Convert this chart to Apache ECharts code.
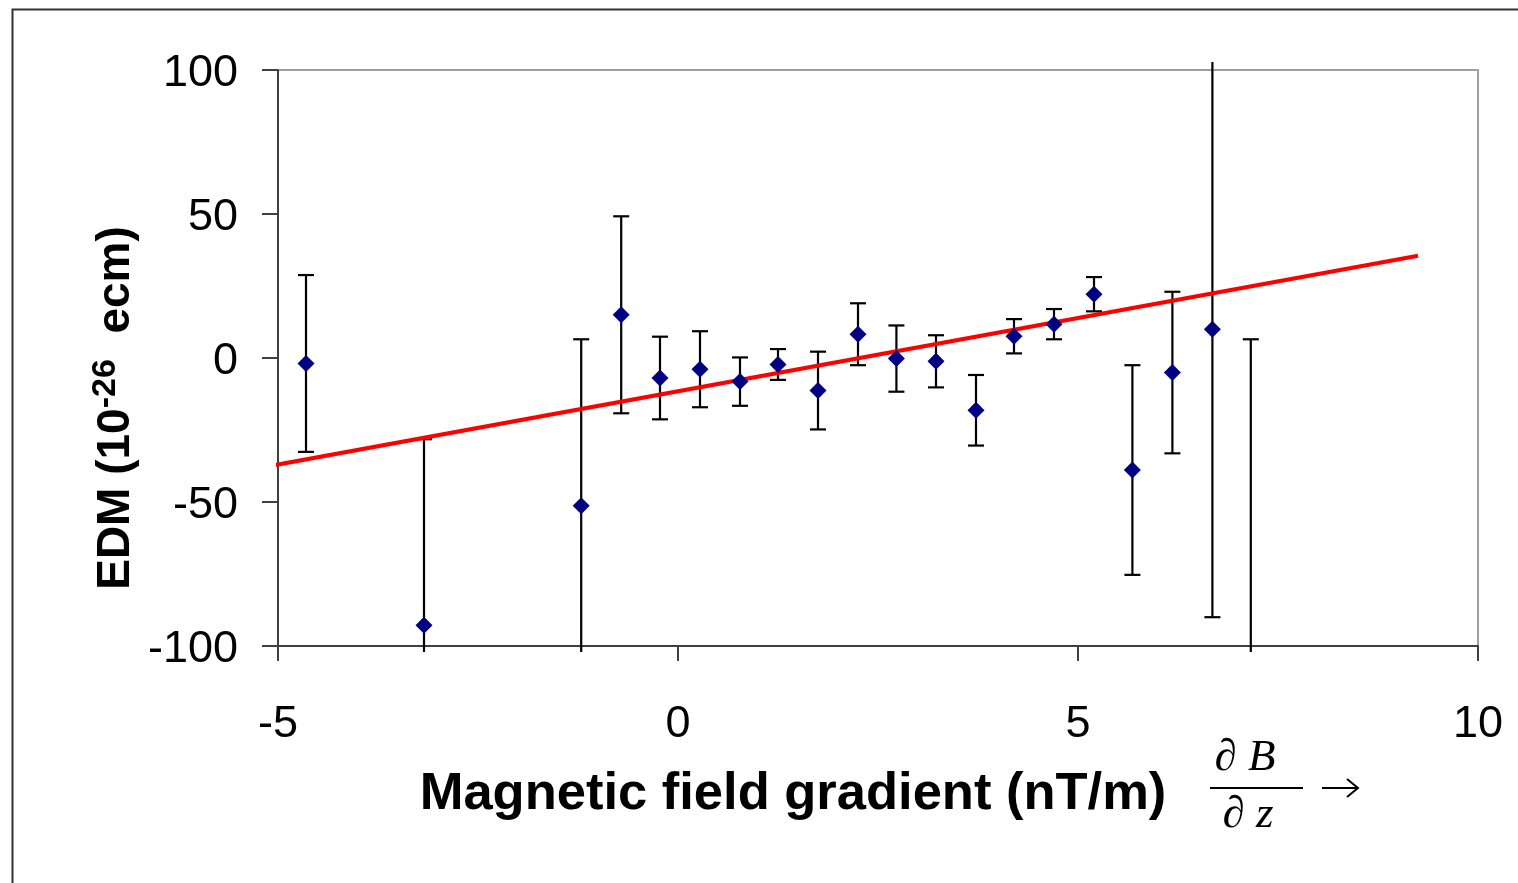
<!DOCTYPE html>
<html>
<head>
<meta charset="utf-8">
<script src="https://cdn.jsdelivr.net/npm/echarts@6/dist/echarts.min.js"></script>
<style>html,body{margin:0;padding:0;background:#fff;}#c{width:1518px;height:883px;}</style>
</head>
<body>
<div id="c"></div>
<script>
const gradient = [-4.65,-3.175,-1.21,-0.71,-0.225,0.275,0.775,1.25,1.75,2.25,2.73,3.225,3.725,4.2,4.7,5.2,5.68,6.18,6.68,7.16];
const edm      = [-1.9,-92.8,-51.3,15.0,-6.95,-3.9,-8.2,-2.25,-11.3,8.25,-0.2,-1.15,-18.15,7.55,11.75,22.15,-38.9,-5.05,10.0,-110];
const edmErr   = [30.7,64.6,57.8,34.2,14.35,13.2,8.4,5.35,13.5,10.75,11.5,9.05,12.25,5.95,5.25,5.95,36.4,28.05,100,116.5];
const fitX = [-5.08, 9.25];
const fitY = [-37.4, 35.5];
const xTicks = [-5, 0, 5, 10];
const yTicks = [-100, -50, 0, 50, 100];

const pts = gradient.map((x, i) => [x, edm[i]]);
const bars = gradient.map((x, i) => [x, edm[i], edmErr[i]]);
const fit = fitX.map((x, i) => [x, fitY[i]]);

const chart = echarts.init(document.getElementById('c'), null, {renderer: 'canvas'});
const FONT = 'Arial, "Liberation Sans", sans-serif';
const SERIF = '"Liberation Serif", "Times New Roman", serif';

chart.setOption({
  animation: false,
  backgroundColor: '#fff',
  grid: {left: 278, right: 40, top: 70, bottom: 237, show: true, borderColor: '#a0a0a0', borderWidth: 2, backgroundColor: 'transparent'},
  xAxis: {
    type: 'value', min: xTicks[0], max: xTicks[xTicks.length - 1], interval: 5,
    axisLine: {show: true, onZero: false, lineStyle: {color: '#404040', width: 2}},
    axisTick: {show: true, inside: false, length: 15, lineStyle: {color: '#404040', width: 2}},
    axisLabel: {color: '#000', fontFamily: FONT, fontSize: 45, margin: 56},
    splitLine: {show: false}
  },
  yAxis: {
    type: 'value', min: yTicks[0], max: yTicks[yTicks.length - 1], interval: 50,
    axisLine: {show: true, onZero: false, lineStyle: {color: '#404040', width: 2}},
    axisTick: {show: true, inside: false, length: 16, lineStyle: {color: '#404040', width: 2}},
    axisLabel: {color: '#000', margin: 40, formatter: '{a|{value}}',
      rich: {a: {fontFamily: FONT, fontSize: 45, color: '#000', padding: [8, 0, 0, 0]}}},
    splitLine: {show: false}
  },
  graphic: [
    {type: 'rect', left: 10, top: 7, shape: {x: 0, y: 0, width: 1530, height: 900}, style: {fill: 'none', stroke: '#333', lineWidth: 2}, z: -10, silent: true},
    {type: 'text', x: 793, y: 795, style: {text: 'Magnetic field gradient (nT/m)', fontFamily: FONT, fontWeight: 'bold', fontSize: 52.5, fill: '#000', textAlign: 'center', textVerticalAlign: 'middle'}},
    {type: 'text', x: 114, y: 408, rotation: Math.PI / 2,
      style: {text: '{m|EDM (10}{s|-26}{m|  ecm)}', fill: '#000', textAlign: 'center', textVerticalAlign: 'middle',
        rich: {m: {fontFamily: FONT, fontWeight: 'bold', fontSize: 46, lineHeight: 50, verticalAlign: 'bottom'},
               s: {fontFamily: FONT, fontWeight: 'bold', fontSize: 34, lineHeight: 30, verticalAlign: 'top'}}}},
    {type: 'text', x: 1245, y: 758, style: {text: '∂ {i|B}', fontFamily: SERIF, fontSize: 45, textAlign: 'center', textVerticalAlign: 'middle', fill: '#000',
      rich: {i: {fontFamily: SERIF, fontStyle: 'italic', fontSize: 45}}}},
    {type: 'text', x: 1248, y: 815, style: {text: '∂ {i|z}', fontFamily: SERIF, fontSize: 45, textAlign: 'center', textVerticalAlign: 'middle', fill: '#000',
      rich: {i: {fontFamily: SERIF, fontStyle: 'italic', fontSize: 45}}}},
    {type: 'line', shape: {x1: 1210, y1: 788, x2: 1303, y2: 788}, style: {stroke: '#000', lineWidth: 2}},
    {type: 'line', shape: {x1: 1322, y1: 788, x2: 1358, y2: 788}, style: {stroke: '#000', lineWidth: 2}},
    {type: 'polyline', shape: {points: [[1347, 779], [1358, 788], [1347, 797]]}, style: {stroke: '#000', lineWidth: 2, fill: 'none'}}
  ],
  series: [
    {
      type: 'custom', name: 'err', data: bars, clip: false, z: 1,
      renderItem: function (params, api) {
        const x = api.value(0), y = api.value(1), e = api.value(2);
        const top = api.coord([x, y + e]);
        const bot = api.coord([x, y - e]);
        const cs = params.coordSys;
        const lo = cs.y - 8, hi = cs.y + cs.height + 6;
        const capTop = top[1] >= cs.y - 0.5;
        const capBot = bot[1] <= cs.y + cs.height + 0.5;
        const t = Math.max(top[1], lo), b = Math.min(bot[1], hi);
        const st = {stroke: '#000', lineWidth: 2.2};
        const ch = [{type: 'line', shape: {x1: top[0], y1: t, x2: top[0], y2: b}, style: st}];
        const w = 8;
        if (capTop) ch.push({type: 'line', shape: {x1: top[0] - w, y1: t, x2: top[0] + w, y2: t}, style: st});
        if (capBot) ch.push({type: 'line', shape: {x1: bot[0] - w, y1: b, x2: bot[0] + w, y2: b}, style: st});
        return {type: 'group', children: ch};
      }
    },
    {type: 'line', name: 'fit', data: fit, clip: false, z: 2, symbol: 'none', lineStyle: {color: '#ff0000', width: 4}},
    {type: 'scatter', name: 'EDM', data: pts, clip: true, z: 3, symbol: 'diamond', symbolSize: [17, 17], itemStyle: {color: '#000080', opacity: 1}}
  ]
});
</script>
</body>
</html>
